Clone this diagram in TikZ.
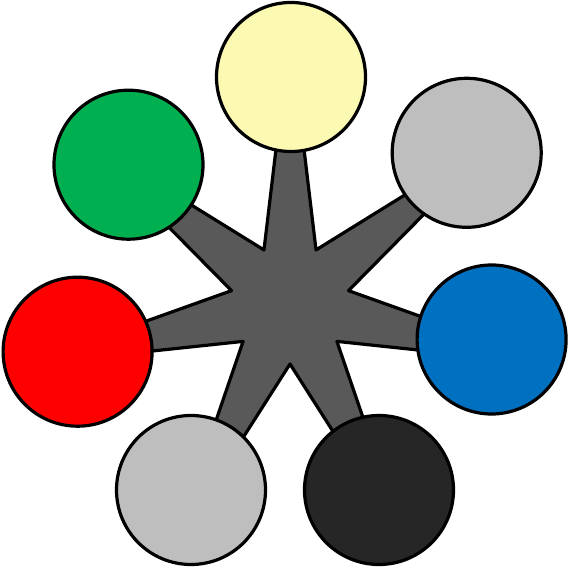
\documentclass[tikz,border=0pt]{standalone}
\usepackage{tikz}

\definecolor{hubgray}{HTML}{595959}
\definecolor{paleyellow}{HTML}{FCF9B3}
\definecolor{lightgray}{HTML}{BEBEBE}
\definecolor{darkblue}{HTML}{0070C0}
\definecolor{nearblack}{HTML}{262626}
\definecolor{leafgreen}{HTML}{00B050}

\begin{document}
\begin{tikzpicture}[x=0.5mm,y=0.5mm,line width=1.6mm,
    disc/.style={circle,draw=black,inner sep=0pt,minimum size=74.5mm},
    spike/.style={draw=black,fill=hubgray,line join=round}]
    \useasboundingbox (0,0) rectangle (568,568);
    \coordinate (hub) at (290,264);

    % seven-pointed hub
    \draw[spike,shift={(hub)}] (90:272)
        \foreach \k in {0,...,6} { -- ({115.714+51.4286*\k}:60) -- ({141.4286+51.4286*\k}:272) } -- cycle;

    \node[disc,fill=paleyellow] (c_1) at (291,491)     {};
    \node[disc,fill=lightgray]  (c_2) at (466.7,415.2) {};
    \node[disc,fill=darkblue]   (c_3) at (491.6,228.5) {};
    \node[disc,fill=nearblack]  (c_4) at (379,78)      {};
    \node[disc,fill=lightgray]  (c_5) at (191,78)      {};
    \node[disc,fill=red]        (c_6) at (77.6,216.3)  {};
    \node[disc,fill=leafgreen]  (c_7) at (128.5,403.3) {};
\end{tikzpicture}
\end{document}
